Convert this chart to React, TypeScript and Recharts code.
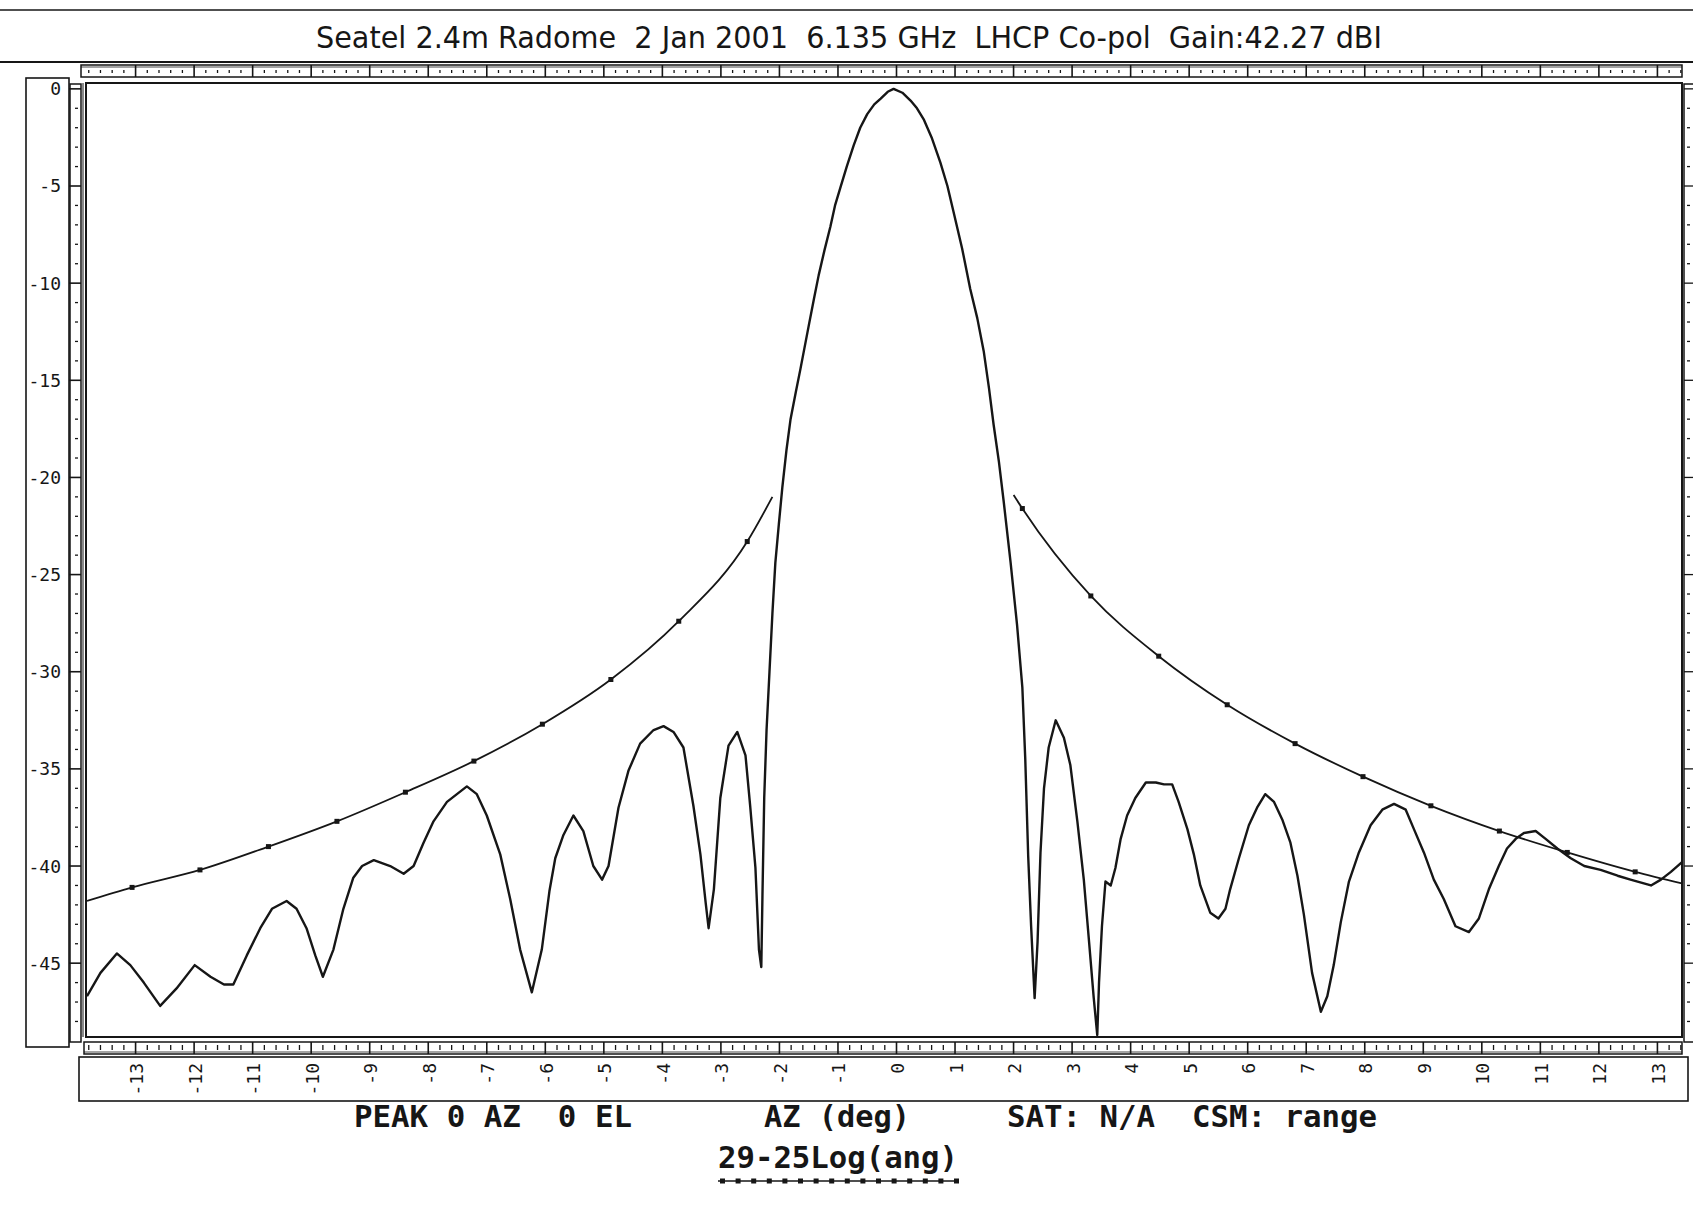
import React from "react";
import { LineChart, Line, XAxis, YAxis } from "recharts";

const W = 1693;
const H = 1231;
const INK = "#161616";
const MONO = "'DejaVu Sans Mono', 'Liberation Mono', monospace";
const NARROW = "'Liberation Sans Narrow', 'DejaVu Sans Condensed', 'Liberation Sans', sans-serif";

const TITLE = "Seatel 2.4m Radome  2 Jan 2001  6.135 GHz  LHCP Co-pol  Gain:42.27 dBI";
const FOOT_PEAK = "PEAK 0 AZ  0 EL";
const FOOT_AXIS = "AZ (deg)";
const FOOT_SAT = "SAT: N/A  CSM: range";
const MASK_NAME = "29-25Log(ang)";

const AZ_DOMAIN: [number, number] = [-13.83, 13.42];
const DB_DOMAIN: [number, number] = [-48.8, 0.25];

const azLabels = [-13, -12, -11, -10, -9, -8, -7, -6, -5, -4, -3, -2, -1, 0, 1, 2, 3, 4, 5, 6, 7, 8, 9, 10, 11, 12, 13];
const dbLabels = [0, -5, -10, -15, -20, -25, -30, -35, -40, -45];

// ruler marks: every 0.2 deg and every 1 dB
const azRuler = Array.from({ length: 137 }, (_, i) => Math.round((-13.8 + i * 0.2) * 10) / 10);
const dbRuler = Array.from({ length: 49 }, (_, i) => -i);

const measured: [number, number][] = [
  [-13.83, -46.7], [-13.6, -45.5], [-13.32, -44.5], [-13.09, -45.1], [-12.86, -46.0],
  [-12.58, -47.2], [-12.3, -46.3], [-11.99, -45.1], [-11.72, -45.7], [-11.49, -46.1],
  [-11.33, -46.1], [-11.1, -44.6], [-10.87, -43.2], [-10.67, -42.2], [-10.42, -41.8],
  [-10.25, -42.2], [-10.08, -43.2], [-9.93, -44.6], [-9.8, -45.7], [-9.62, -44.3],
  [-9.45, -42.2], [-9.28, -40.6], [-9.13, -40.0], [-8.93, -39.7], [-8.65, -40.0],
  [-8.42, -40.4], [-8.25, -40.0], [-8.08, -38.8], [-7.91, -37.7], [-7.68, -36.7],
  [-7.51, -36.3], [-7.34, -35.9], [-7.17, -36.3], [-7.0, -37.4], [-6.77, -39.4],
  [-6.6, -41.7], [-6.43, -44.3], [-6.23, -46.5], [-6.06, -44.3], [-5.93, -41.3],
  [-5.83, -39.6], [-5.69, -38.4], [-5.52, -37.4], [-5.35, -38.2], [-5.18, -40.0],
  [-5.03, -40.7], [-4.92, -40.0], [-4.75, -37.0], [-4.58, -35.1], [-4.38, -33.7],
  [-4.15, -33.0], [-3.98, -32.8], [-3.81, -33.1], [-3.64, -33.9], [-3.47, -36.9],
  [-3.35, -39.4], [-3.26, -41.9], [-3.21, -43.2], [-3.12, -41.2], [-3.01, -36.5],
  [-2.87, -33.8], [-2.72, -33.1], [-2.58, -34.3], [-2.5, -36.9], [-2.41, -40.1],
  [-2.35, -44.3], [-2.31, -45.2], [-2.29, -41.5], [-2.26, -36.5], [-2.22, -33.0],
  [-2.17, -30.0], [-2.12, -27.0], [-2.07, -24.4], [-2.01, -22.4], [-1.95, -20.5],
  [-1.88, -18.6], [-1.81, -17.0], [-1.72, -15.6], [-1.64, -14.4], [-1.5, -12.2],
  [-1.41, -10.8], [-1.33, -9.6], [-1.23, -8.3], [-1.13, -7.1], [-1.05, -6.0],
  [-0.96, -5.1], [-0.85, -4.0], [-0.73, -2.9], [-0.62, -2.0], [-0.5, -1.3],
  [-0.38, -0.8], [-0.27, -0.5], [-0.15, -0.15], [-0.05, 0.0], [0.1, -0.2],
  [0.24, -0.6], [0.35, -1.0], [0.47, -1.6], [0.6, -2.5], [0.75, -3.8],
  [0.87, -5.0], [0.98, -6.4], [1.12, -8.2], [1.26, -10.3], [1.38, -11.8],
  [1.49, -13.5], [1.58, -15.4], [1.66, -17.3], [1.75, -19.2], [1.83, -21.2],
  [1.95, -24.4], [2.06, -27.6], [2.15, -30.8], [2.2, -34.5], [2.25, -39.5],
  [2.3, -43.1], [2.36, -46.8], [2.41, -43.9], [2.46, -39.3], [2.52, -36.0],
  [2.6, -33.9], [2.72, -32.5], [2.86, -33.4], [2.97, -34.8], [3.09, -37.7],
  [3.2, -40.7], [3.29, -43.9], [3.37, -46.8], [3.43, -48.7], [3.46, -46.0],
  [3.51, -43.1], [3.57, -40.8], [3.66, -41.0], [3.74, -40.1], [3.83, -38.6],
  [3.94, -37.4], [4.08, -36.5], [4.26, -35.7], [4.43, -35.7], [4.57, -35.8],
  [4.71, -35.8], [4.82, -36.7], [4.97, -38.1], [5.08, -39.4], [5.19, -41.0],
  [5.36, -42.4], [5.5, -42.7], [5.62, -42.2], [5.7, -41.2], [5.85, -39.6],
  [6.02, -37.9], [6.16, -37.0], [6.3, -36.3], [6.45, -36.7], [6.59, -37.6],
  [6.73, -38.8], [6.85, -40.5], [6.96, -42.5], [7.1, -45.5], [7.25, -47.5],
  [7.36, -46.7], [7.47, -45.1], [7.59, -42.9], [7.73, -40.8], [7.9, -39.3],
  [8.1, -37.9], [8.3, -37.1], [8.5, -36.8], [8.7, -37.1], [8.84, -38.1],
  [9.01, -39.3], [9.18, -40.7], [9.35, -41.7], [9.55, -43.1], [9.78, -43.4],
  [9.95, -42.7], [10.12, -41.2], [10.29, -40.0], [10.43, -39.1], [10.58, -38.6],
  [10.72, -38.3], [10.92, -38.2], [11.09, -38.6], [11.29, -39.1], [11.52, -39.6],
  [11.75, -40.0], [12.03, -40.2], [12.32, -40.5], [12.54, -40.7], [12.89, -41.0],
  [13.06, -40.7], [13.23, -40.3], [13.42, -39.8],
];

// 29-25Log(ang) mask, marker points (first/last are the line ends)
const maskLeft: [number, number][] = [
  [-13.83, -41.8], [-13.06, -41.1], [-11.9, -40.2], [-10.73, -39.0], [-9.56, -37.7],
  [-8.39, -36.2], [-7.22, -34.6], [-6.05, -32.7], [-4.88, -30.4], [-3.72, -27.4],
  [-2.55, -23.3], [-2.12, -21.0],
];
const maskRight: [number, number][] = [
  [2.0, -20.9], [2.15, -21.6], [3.32, -26.1], [4.48, -29.2], [5.65, -31.7],
  [6.81, -33.7], [7.97, -35.4], [9.13, -36.9], [10.3, -38.2], [11.46, -39.3],
  [12.62, -40.3], [13.42, -40.9],
];

const toRows = (pts: [number, number][]) => pts.map(([az, db]) => ({ az, db }));

const isWhole = (v: number) => Math.abs(v - Math.round(v)) < 1e-6;

const BottomTick = (props: any) => {
  const { x, y, payload } = props;
  const v = payload.value as number;
  const major = isWhole(v);
  const lab = Math.round(v);
  return (
    <g>
      <line x1={x} x2={x} y1={y + (major ? 5 : 8)} y2={y + (major ? 17 : 13)} stroke={INK} strokeWidth={major ? 1.6 : 1.3} />
      {major && azLabels.includes(lab) && (
        <text
          transform={`translate(${x + 1},${y + 26}) rotate(-90)`}
          textAnchor="end"
          dy="0.36em"
          fontFamily={MONO}
          fontSize={18}
          fill={INK}
        >
          {lab}
        </text>
      )}
    </g>
  );
};

const TopTick = (props: any) => {
  const { x, y, payload } = props;
  const major = isWhole(payload.value);
  return (
    <line x1={x} x2={x} y1={y - (major ? 19 : 14)} y2={y - (major ? 7 : 11)} stroke={INK} strokeWidth={major ? 1.6 : 1.3} />
  );
};

const LeftTick = (props: any) => {
  const { x, y, payload } = props;
  const v = payload.value as number;
  const major = v % 5 === 0;
  return (
    <g>
      <line x1={x - (major ? 18 : 12)} x2={x - (major ? 6 : 9)} y1={y} y2={y} stroke={INK} strokeWidth={major ? 1.6 : 1.3} />
      {dbLabels.includes(v) && (
        <text x={x - 26} y={y} dy="0.36em" textAnchor="end" fontFamily={MONO} fontSize={18} fill={INK}>
          {v}
        </text>
      )}
    </g>
  );
};

const RightTick = (props: any) => {
  const { x, y, payload } = props;
  const major = payload.value % 5 === 0;
  return <line x1={x + (major ? 2 : 5)} x2={x + (major ? 11 : 8)} y1={y} y2={y} stroke={INK} strokeWidth={1.3} />;
};

const MaskDot = (last: number) => (props: any) => {
  const { cx, cy, index } = props;
  if (index === 0 || index === last) return <g key={`md-${index}`} />;
  return <rect key={`md-${index}`} x={cx - 2.5} y={cy - 2.5} width={5} height={5} fill={INK} />;
};

const preText = { whiteSpace: "pre" as const };

const Frame = () => (
  <svg width={W} height={H} style={{ position: "absolute", left: 0, top: 0 }}>
    <rect x={0} y={0} width={W} height={H} fill="#fff" />
    <line x1={0} x2={W} y1={10} y2={10} stroke={INK} strokeWidth={1.5} />
    <text
      x={316}
      y={48}
      textLength={1066}
      lengthAdjust="spacingAndGlyphs"
      fontFamily={NARROW}
      fontSize={30}
      fill={INK}
      xmlSpace="preserve"
      style={preText}
    >
      {TITLE}
    </text>
    <line x1={0} x2={W} y1={62} y2={62} stroke={INK} strokeWidth={1.8} />
    {/* top ruler strip */}
    <rect x={81} y={65} width={1601} height={12} fill="none" stroke={INK} strokeWidth={1.5} />
    <line x1={81} x2={1682} y1={67} y2={67} stroke={INK} strokeWidth={0.8} />
    {/* left label box and ruler */}
    <rect x={26} y={78} width={43} height={969} fill="none" stroke={INK} strokeWidth={1.6} />
    <rect x={70} y={84} width={11} height={958} fill="none" stroke={INK} strokeWidth={1.5} />
    {/* plot frame */}
    <rect x={86} y={83} width={1596} height={954} fill="none" stroke={INK} strokeWidth={2} />
    <line x1={83} x2={83} y1={83} y2={1037} stroke={INK} strokeWidth={1} />
    {/* right ruler */}
    <rect x={1684} y={84} width={12} height={958} fill="none" stroke={INK} strokeWidth={1.5} />
    {/* bottom ruler strip */}
    <rect x={84} y={1042} width={1598} height={12} fill="none" stroke={INK} strokeWidth={1.5} />
    <line x1={84} x2={1682} y1={1052} y2={1052} stroke={INK} strokeWidth={0.8} />
    {/* x label box */}
    <rect x={79} y={1057} width={1609} height={44} fill="none" stroke={INK} strokeWidth={1.6} />
    {/* footer */}
    <g fontFamily={MONO} fontWeight="bold" fontSize={30} fill={INK}>
      <text x={354} y={1127} textLength={278} lengthAdjust="spacingAndGlyphs" xmlSpace="preserve" style={preText}>{FOOT_PEAK}</text>
      <text x={764} y={1127} textLength={146} lengthAdjust="spacingAndGlyphs" xmlSpace="preserve" style={preText}>{FOOT_AXIS}</text>
      <text x={1007} y={1127} textLength={370} lengthAdjust="spacingAndGlyphs" xmlSpace="preserve" style={preText}>{FOOT_SAT}</text>
      <text x={718} y={1168} textLength={240} lengthAdjust="spacingAndGlyphs" xmlSpace="preserve" style={preText}>{MASK_NAME}</text>
    </g>
    <line x1={718} x2={958} y1={1181} y2={1181} stroke={INK} strokeWidth={1.6} />
    {Array.from({ length: 16 }, (_, i) => (
      <rect key={i} x={720 + i * 15.6} y={1178.5} width={5} height={5} fill={INK} />
    ))}
  </svg>
);

export default function App() {
  const leftRows = toRows(maskLeft);
  const rightRows = toRows(maskRight);
  return (
    <div style={{ position: "absolute", left: 0, top: 0, width: W, height: H, background: "#fff" }}>
      <Frame />
      <div style={{ position: "absolute", left: 0, top: 0 }}>
        <LineChart width={W} height={H} margin={{ top: 64, right: 0, bottom: 114, left: 27 }}>
          <XAxis
            xAxisId="az"
            dataKey="az"
            type="number"
            domain={AZ_DOMAIN}
            allowDataOverflow
            ticks={azRuler}
            interval={0}
            height={80}
            tickSize={0}
            tickMargin={0}
            axisLine={false}
            tickLine={false}
            tick={BottomTick}
          />
          <XAxis
            xAxisId="top"
            dataKey="az"
            type="number"
            orientation="top"
            domain={AZ_DOMAIN}
            allowDataOverflow
            ticks={azRuler}
            interval={0}
            height={20}
            tickSize={0}
            tickMargin={0}
            axisLine={false}
            tickLine={false}
            tick={TopTick}
          />
          <YAxis
            yAxisId="db"
            type="number"
            domain={DB_DOMAIN}
            allowDataOverflow
            ticks={dbRuler}
            interval={0}
            width={60}
            tickSize={0}
            tickMargin={0}
            axisLine={false}
            tickLine={false}
            tick={LeftTick}
          />
          <YAxis
            yAxisId="right"
            type="number"
            orientation="right"
            domain={DB_DOMAIN}
            allowDataOverflow
            ticks={dbRuler}
            interval={0}
            width={11}
            tickSize={0}
            tickMargin={0}
            axisLine={false}
            tickLine={false}
            tick={RightTick}
          />
          <Line
            xAxisId="az"
            yAxisId="db"
            data={leftRows}
            dataKey="db"
            type="monotone"
            stroke={INK}
            strokeWidth={1.8}
            dot={MaskDot(leftRows.length - 1)}
            isAnimationActive={false}
          />
          <Line
            xAxisId="az"
            yAxisId="db"
            data={rightRows}
            dataKey="db"
            type="monotone"
            stroke={INK}
            strokeWidth={1.8}
            dot={MaskDot(rightRows.length - 1)}
            isAnimationActive={false}
          />
          <Line
            xAxisId="az"
            yAxisId="db"
            data={toRows(measured)}
            dataKey="db"
            type="linear"
            stroke={INK}
            strokeWidth={2.4}
            strokeLinejoin="round"
            dot={false}
            isAnimationActive={false}
          />
        </LineChart>
      </div>
    </div>
  );
}
